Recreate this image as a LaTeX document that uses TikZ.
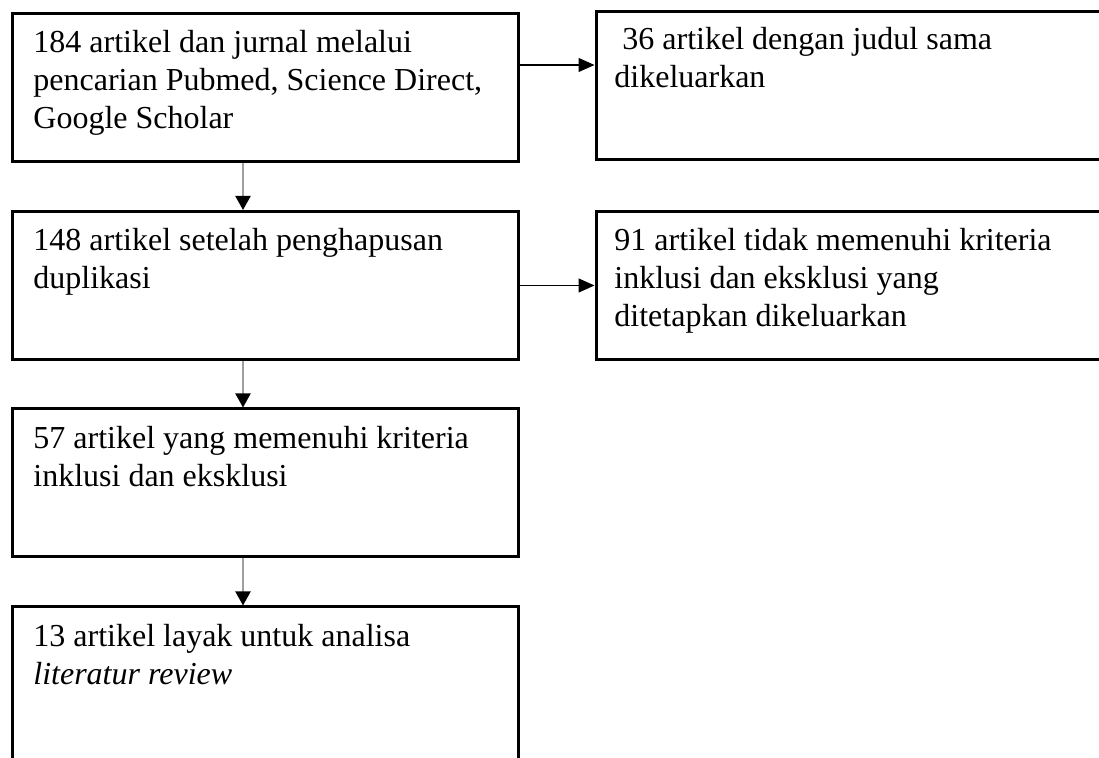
\documentclass[tikz,border=0pt]{standalone}
\usepackage{fontspec}
\setmainfont{Liberation Serif}
\usetikzlibrary{arrows.meta, positioning}

\begin{document}
\begin{tikzpicture}[
  x=0.5pt, y=-0.5pt,
  bx/.style={draw, line width=1.5pt, minimum height=74pt, inner sep=0pt},
  lbx/.style={bx, minimum width=253pt},
  rbx/.style={bx, minimum width=257pt},
  txt/.style={anchor=base west, inner sep=0pt, align=left,
              font=\fontsize{16}{19}\selectfont},
  va/.style={-{Triangle[length=7pt, width=7.5pt, black]}, line width=1pt, gray!75},
  ha/.style={-{Triangle[length=8pt, width=7pt]}, line width=0.6pt, black}
]
\useasboundingbox (0,0) rectangle (1099,758);

% Left column of boxes
\node[lbx] (s1) at (265, 88)  {};
\node[lbx] (s2) at (265, 285.5) {};
\node[lbx] (s3) at (265, 483) {};
\node[lbx, minimum height=96.5pt] (s4) at (265, 703.5) {};

% Right column of boxes (cut at the right edge)
\node[rbx] (k1) at (853, 86) {};
\node[rbx] (k2) at (853, 285.5) {};

% Texts (anchored at the base of their last line)
\node[txt] (t1) at (33, 129)  {184 artikel dan jurnal melalui\\
  pencarian Pubmed, Science Direct,\\ Google Scholar};
\node[txt] (t2) at (33, 289) {148 artikel setelah penghapusan\\ duplikasi};
\node[txt] (t3) at (33, 487) {57 artikel yang memenuhi kriteria\\
  inklusi dan eksklusi};
\node[txt] (t4) at (33, 685) {13 artikel layak untuk analisa\\
  \textit{literatur review}};
\node[txt] (u1) at (614, 88) {\ 36 artikel dengan judul sama\\ dikeluarkan};
\node[txt] (u2) at (614, 327) {91 artikel tidak memenuhi kriteria\\
  inklusi dan eksklusi yang\\ ditetapkan dikeluarkan};

% Arrows down
\draw[va] ([xshift=-11pt]s1.south) -- ([xshift=-11pt]s2.north);
\draw[va] ([xshift=-11pt]s2.south) -- ([xshift=-11pt]s3.north);
\draw[va] ([xshift=-11pt]s3.south) -- ([xshift=-11pt]s4.north);

% Arrows right
\draw[ha] ([yshift=11.5pt]s1.east) -- ([yshift=10.5pt]k1.west);
\draw[ha] ([yshift=0pt]s2.east) -- ([yshift=0pt]k2.west);
\end{tikzpicture}
\end{document}
